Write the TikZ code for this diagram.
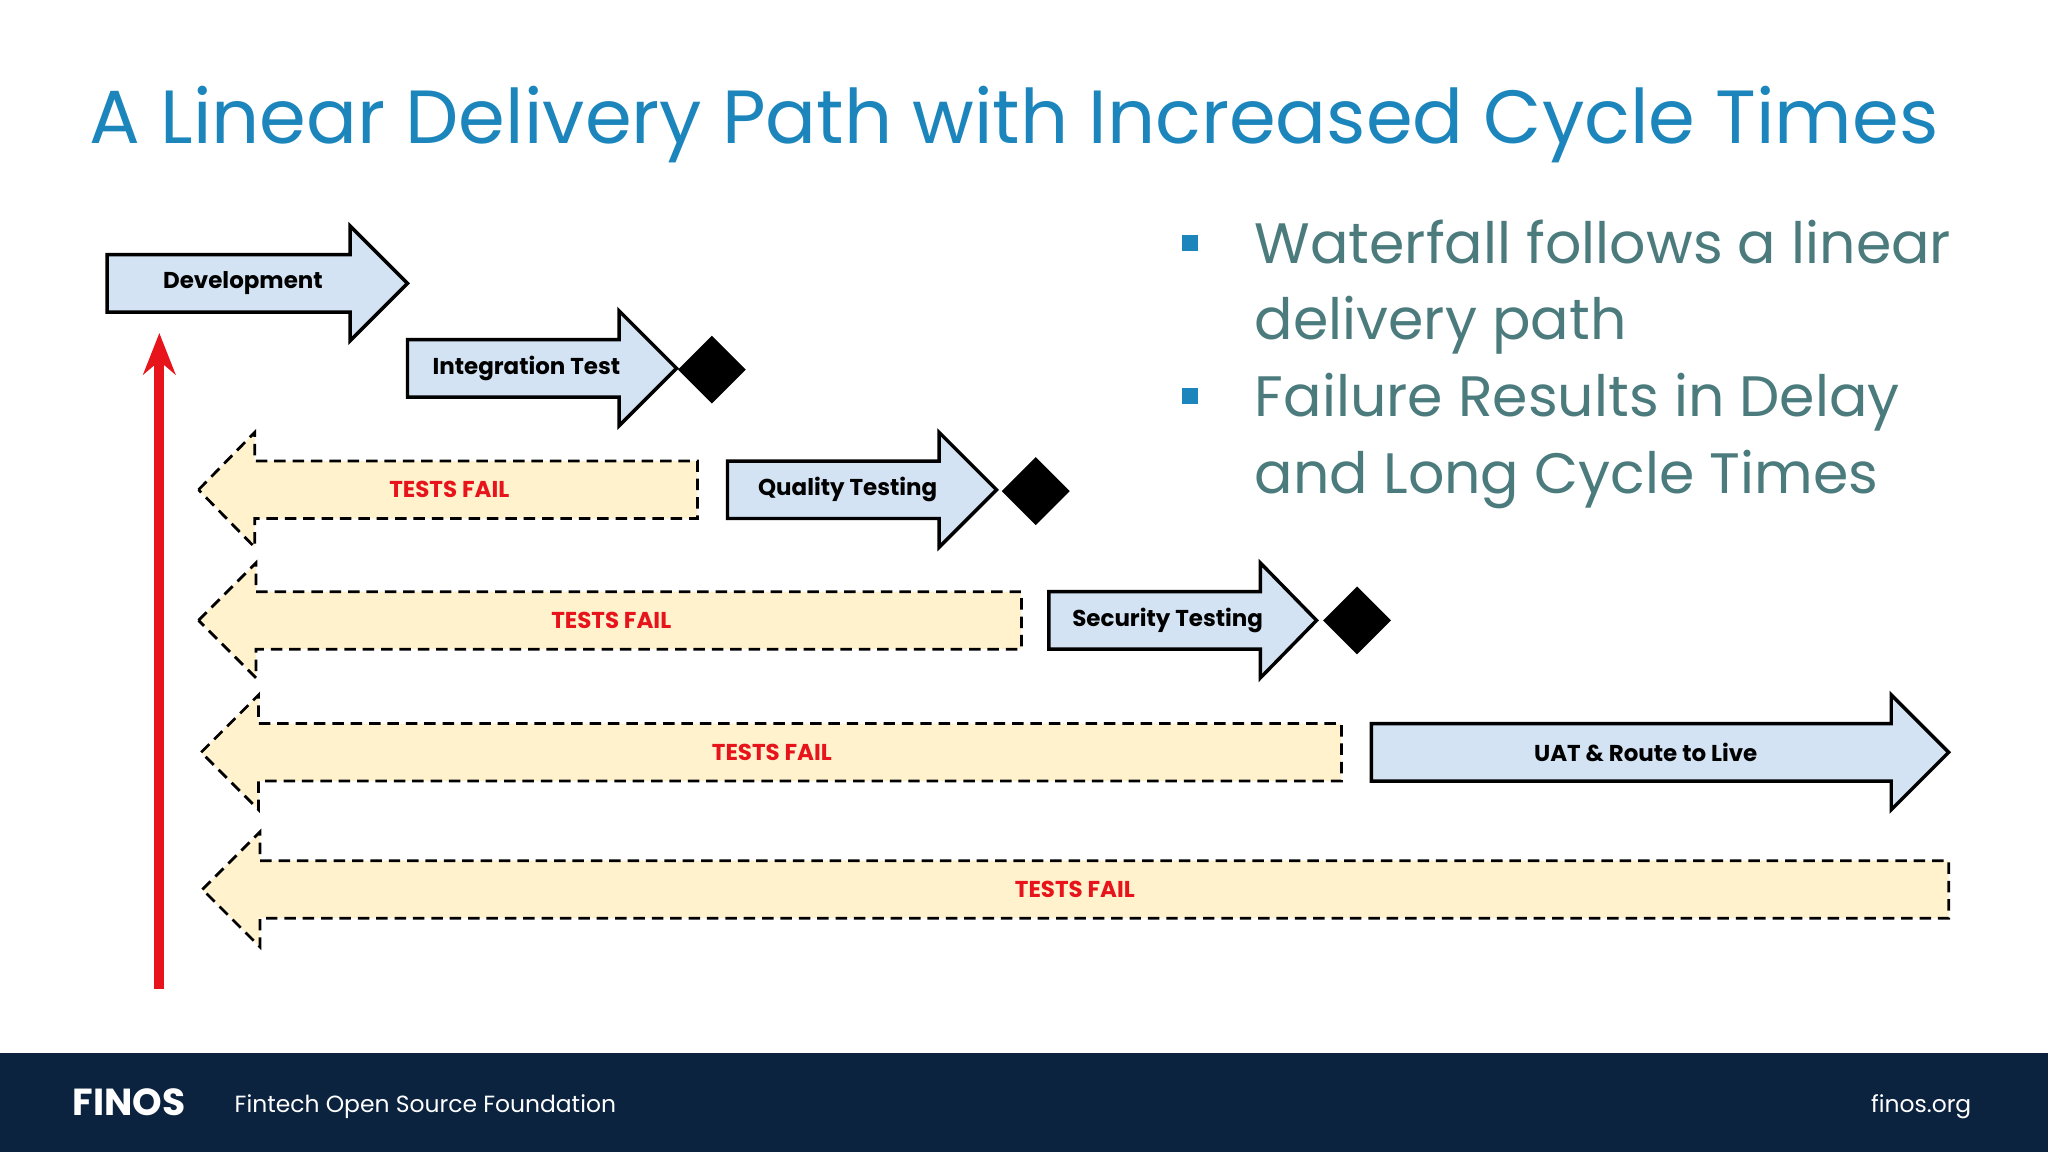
\documentclass[tikz,border=0pt]{standalone}
\usepackage{fontspec}
\setmainfont{Poppins}
\usetikzlibrary{arrows.meta}
\definecolor{titleblue}{HTML}{1C86BC}
\definecolor{bullettxt}{HTML}{4B7B7C}
\definecolor{boxblue}{HTML}{D3E3F3}
\definecolor{boxyellow}{HTML}{FFF2CC}
\definecolor{footer}{HTML}{0B233F}
\definecolor{failred}{HTML}{E8141B}
\tikzset{
  stagebox/.style={draw=black,fill=boxblue,line width=0.75pt,line join=miter},
  fail/.style={draw=black,fill=boxyellow,line width=0.6pt,dash pattern=on 2.5pt off 1.5pt},
  lbl/.style={font=\bfseries\fontsize{5.0}{6}\selectfont},
  faillbl/.style={lbl,text=failred},
  gate/.style={fill=black},
  bullet/.style={anchor=base west,inner sep=0,text=bullettxt,font=\fontsize{12.4}{15}\selectfont},
}
% right block arrow: x0, x1 (head base), xtip, yc
\newcommand{\rblk}[4]{\path[stagebox] (#1,#4-22) -- (#2,#4-22) -- (#2,#4-44) -- (#3,#4) -- (#2,#4+44) -- (#2,#4+22) -- (#1,#4+22) -- cycle;}
% left dashed block arrow: xtip, xbase, x1, yc
\newcommand{\lblk}[4]{\path[fail] (#1,#4) -- (#2,#4-44) -- (#2,#4-22) -- (#3,#4-22) -- (#3,#4+22) -- (#2,#4+22) -- (#2,#4+44) -- cycle;}
\newcommand{\gatemark}[2]{\path[gate] (#1-26,#2) -- (#1,#2-26) -- (#1+26,#2) -- (#1,#2+26) -- cycle;}
\begin{document}
\begin{tikzpicture}[x=0.01cm,y=-0.01cm]
\useasboundingbox (0,0) rectangle (1568,882);
\fill[white] (0,0) rectangle (1568,882);
\fill[footer] (0,806) rectangle (1568,882);
\node[anchor=base west,text=titleblue,inner sep=0,font=\fontsize{16.4}{20}\selectfont] (title) at (68,110) {A Linear Delivery Path with Increased Cycle Times};
% bullets
\fill[titleblue] (905,180) rectangle (917,192);
\fill[titleblue] (905,297) rectangle (917,309);
\node[bullet] (b1) at (960,202) {Waterfall follows a linear};
\node[bullet] (b1b) at (960,260) {delivery path};
\node[bullet] (b2) at (960,319) {Failure Results in Delay};
\node[bullet] (b2b) at (960,378) {and Long Cycle Times};
% fail arrows
\lblk{152}{195}{534}{375}
\node[faillbl] (f1) at (344,375) {TESTS FAIL};
\lblk{152}{196}{782}{475}
\node[faillbl] (f2) at (468,475) {TESTS FAIL};
\lblk{154}{198}{1027}{576}
\node[faillbl] (f3) at (591,576) {TESTS FAIL};
\lblk{155}{199}{1492}{681}
\node[faillbl] (f4) at (823,681) {TESTS FAIL};
% steps
\rblk{82}{268}{312}{217}
\node[lbl] (dev) at (186,217) {Development};
\rblk{312}{474}{518}{282}
\node[lbl] (it) at (403,282) {Integration Test};
\gatemark{545}{283}
\rblk{557}{719}{763}{375}
\node[lbl] (qt) at (649,375) {Quality Testing};
\gatemark{793}{376}
\rblk{803}{965}{1008}{475}
\node[lbl] (st) at (894,475) {Security Testing};
\gatemark{1039}{475}
\rblk{1050}{1448}{1492}{576}
\node[lbl] (uat) at (1260,576) {UAT \& Route to Live};
% feedback arrow
\coordinate (rb) at (122,757);
\coordinate (rt) at (122,255);
\draw[failred,line width=2.2pt,-{Stealth[length=9pt,width=7pt]}] (rb) -- (rt);
% footer
\node[anchor=base west,inner sep=0,text=white,font=\bfseries\fontsize{8.2}{10}\selectfont] (finos) at (55,854) {FINOS};
\node[anchor=base west,inner sep=0,text=white,font=\fontsize{5.1}{6}\selectfont] (ftxt) at (179,852) {Fintech Open Source Foundation};
\node[anchor=base east,inner sep=0,text=white,font=\fontsize{5.1}{6}\selectfont] (url) at (1510,852) {finos.org};
\end{tikzpicture}
\end{document}
